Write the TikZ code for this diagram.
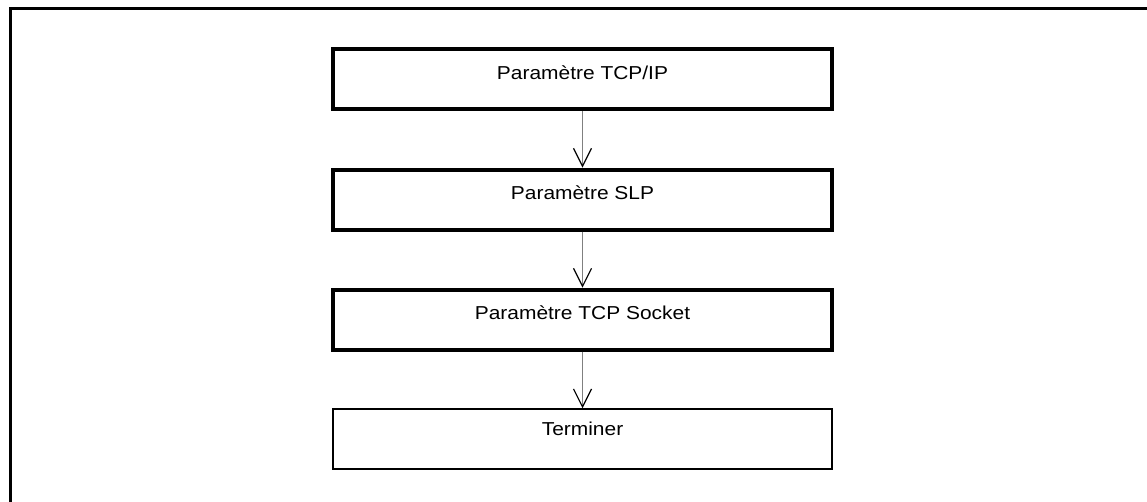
\documentclass[tikz,border=0pt]{standalone}
\usepackage{fontspec}
\setmainfont{Liberation Sans}[FakeStretch=1.12]
\usetikzlibrary{arrows.meta}
\begin{document}
\begin{tikzpicture}[x=1pt,y=-1pt,
  frameline/.style={line width=3pt},
  thickbox/.style={draw, line width=4pt, minimum width=499pt, minimum height=60pt, inner sep=0pt},
  thinbox/.style={draw, line width=2pt, minimum width=499pt, minimum height=59.5pt, inner sep=0pt},
  boxtext/.style={font=\fontsize{18.7}{22}\selectfont, anchor=base},
  flow/.style={draw=black!50, line width=0.9pt, -{Straight Barb[length=18pt,width=18pt,line width=1.2pt,color=black]}}
]
\useasboundingbox (0,0) rectangle (1147,502);
\draw[frameline] (10,502) -- (10,9) -- (1147,9);
\node[thickbox, label={[boxtext, yshift=-31.8pt]north:Paramètre TCP/IP}] (b1) at (582.5,79.5) {};
\node[thickbox, label={[boxtext, yshift=-31.8pt]north:Paramètre SLP}] (b2) at (582.5,199.6) {};
\node[thickbox, label={[boxtext, yshift=-31.8pt]north:Paramètre TCP Socket}] (b3) at (582.5,319.7) {};
\node[thinbox, label={[boxtext, yshift=-26.8pt]north:Terminer}] (b4) at (582.5,439) {};
\draw[flow] (b1.south) -- (b2.north);
\draw[flow] (b2.south) -- (b3.north);
\draw[flow] (b3.south) -- (b4.north);
\end{tikzpicture}
\end{document}
